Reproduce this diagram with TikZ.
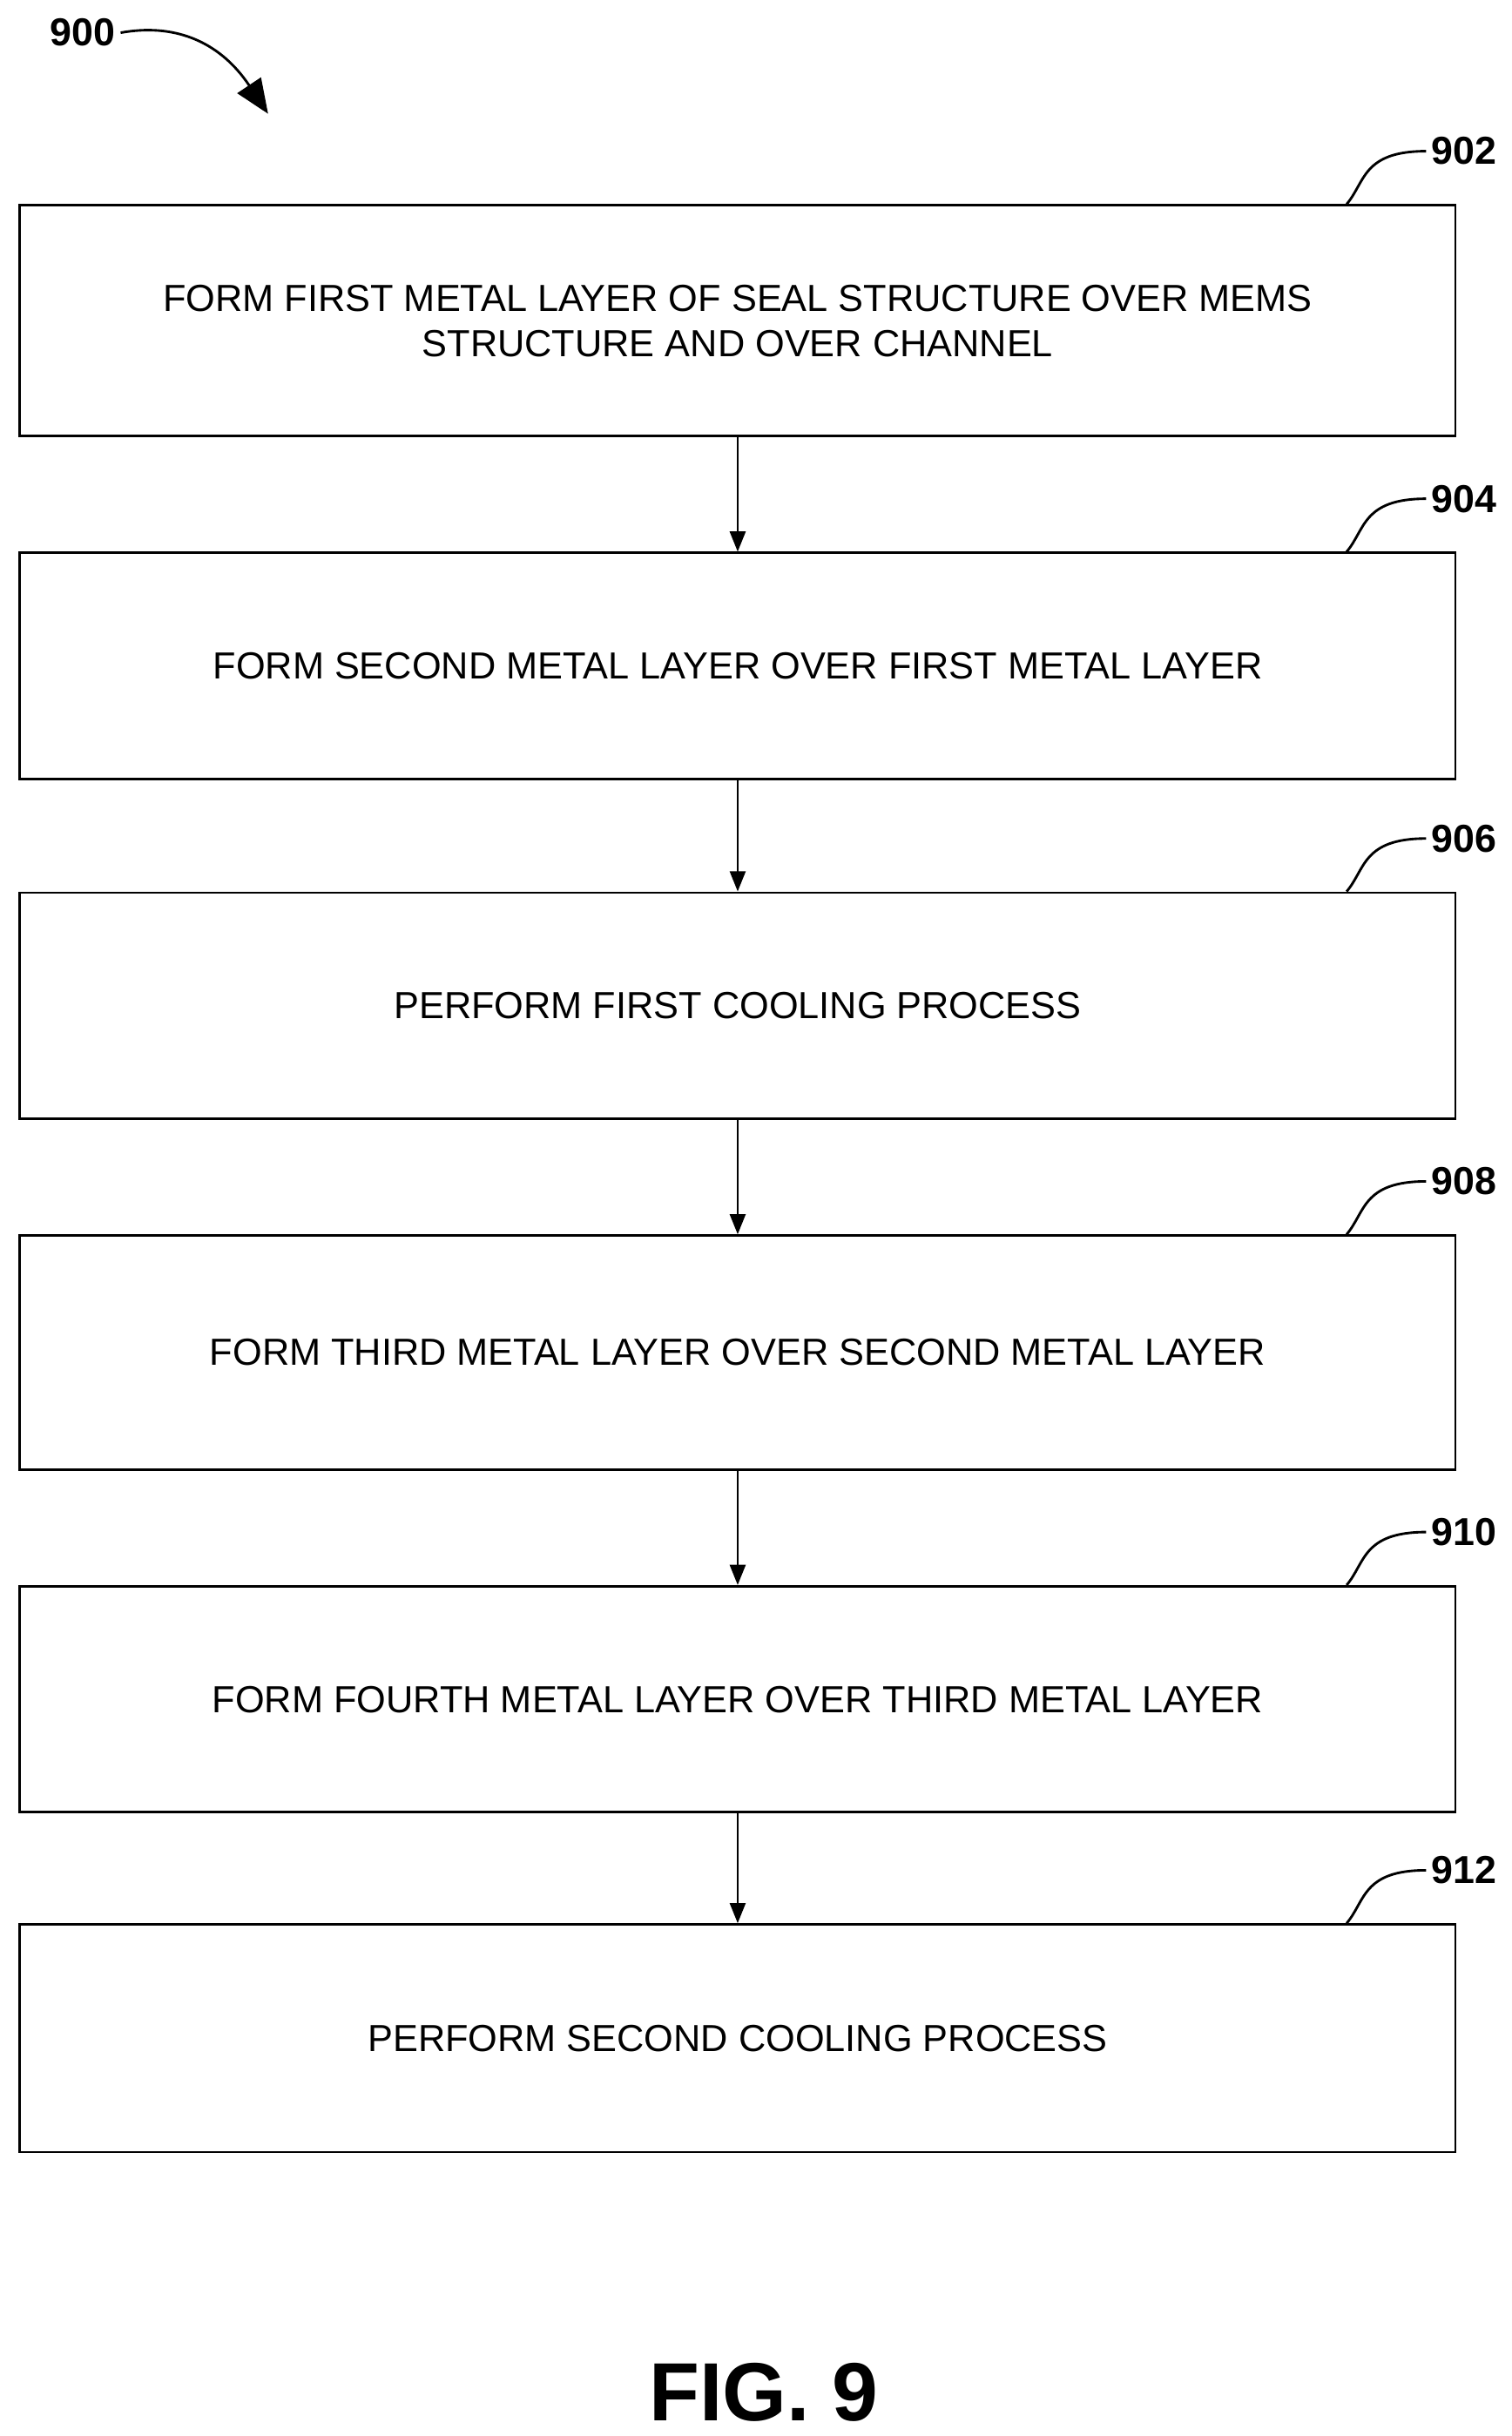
\documentclass[tikz,border=0pt]{standalone}
\usepackage{fontspec}
\setmainfont{Liberation Sans}
\usetikzlibrary{arrows.meta}
\begin{document}
\begin{tikzpicture}[x=1pt,y=-1pt,
  box/.style={draw,line width=1.6pt,minimum width=921pt,anchor=north west,inner sep=0pt,align=center,font=\fontsize{24.2}{29}\selectfont},
  lbl/.style={font=\fontsize{25}{30}\selectfont\bfseries},
  flow/.style={line width=1.6pt,-{Triangle[length=13pt,width=10pt]}},
  lead/.style={line width=1.6pt}]
\useasboundingbox (0,0) rectangle (970,1563);
\node[box,minimum height=148pt] (b1) at (12,131) {FORM FIRST METAL LAYER OF SEAL STRUCTURE OVER MEMS\\STRUCTURE AND OVER CHANNEL};
\node[box,minimum height=145pt] (b2) at (12,354) {FORM SECOND METAL LAYER OVER FIRST METAL LAYER};
\node[box,minimum height=145pt] (b3) at (12,572) {PERFORM FIRST COOLING PROCESS};
\node[box,minimum height=150pt] (b4) at (12,792) {FORM THIRD METAL LAYER OVER SECOND METAL LAYER};
\node[box,minimum height=145pt] (b5) at (12,1017) {FORM FOURTH METAL LAYER OVER THIRD METAL LAYER};
\node[box,minimum height=146pt] (b6) at (12,1234) {PERFORM SECOND COOLING PROCESS};
\foreach \a/\b in {b1/b2,b2/b3,b3/b4,b4/b5,b5/b6}
  \draw[flow] (\a.south) -- (\b.north);
\foreach \n/\y in {902/131,904/354,906/572,908/792,910/1017,912/1234}{
  \node[lbl,anchor=west] (l\n) at (915,\y-34) {\n};
  \draw[lead] (864,\y) .. controls (876,\y-14) and (874,\y-34) .. (l\n.west);
}
\node[lbl,anchor=center] (l900) at (53,21) {900};
\coordinate (a900) at (172,73);
\draw[lead,-{Triangle[length=22pt,width=18pt]}] (l900.east) .. controls (110,15) and (140,25) .. (a900);
\node[font=\fontsize{53}{58}\selectfont\bfseries] (fig) at (490,1535) {FIG. 9};
\end{tikzpicture}
\end{document}
